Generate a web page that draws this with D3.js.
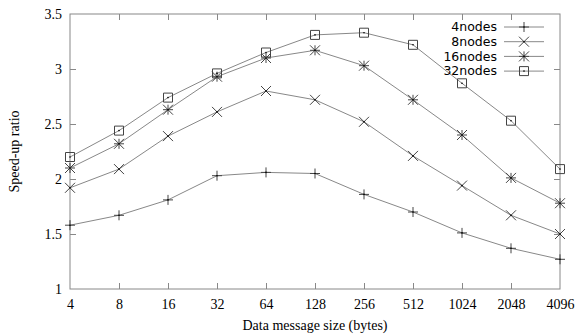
<!DOCTYPE html>
<html>
<head>
<meta charset="utf-8">
<script src="https://cdn.jsdelivr.net/npm/d3@7"></script>
<style>
  body { margin: 0; background: #fff; }
  svg { display: block; }
  .axis text { font-family: "Liberation Serif", serif; font-size: 14px; fill: #000; }
  .axis path { display: none; }
  .axis line { stroke: #888; }
  .legend text { font-family: "DejaVu Sans", sans-serif; font-size: 12.5px; fill: #000; }
</style>
</head>
<body>
<svg id="chart" width="577" height="334"></svg>
<script>
// message sizes on the x axis
const sizes = ['4', '8', '16', '32', '64', '128', '256', '512', '1024', '2048', '4096'];
const yTicks = [1, 1.5, 2, 2.5, 3, 3.5];

const nodes4  = [1.58, 1.67, 1.81, 2.03, 2.06, 2.05, 1.86, 1.70, 1.51, 1.37, 1.27];
const nodes8  = [1.92, 2.09, 2.39, 2.61, 2.80, 2.72, 2.52, 2.21, 1.94, 1.67, 1.50];
const nodes16 = [2.10, 2.32, 2.63, 2.93, 3.10, 3.17, 3.03, 2.72, 2.40, 2.01, 1.78];
const nodes32 = [2.20, 2.44, 2.74, 2.96, 3.15, 3.31, 3.33, 3.22, 2.87, 2.53, 2.09];

const seriesNames = ['4nodes', '8nodes', '16nodes', '32nodes'];
const series = [nodes4, nodes8, nodes16, nodes32];

const W = 577, H = 334;
const MARGIN = { left: 70, right: 17, top: 14, bottom: 45 };

const svg = d3.select('#chart');

const x = d3.scalePoint()
    .domain(sizes)
    .range([MARGIN.left, W - MARGIN.right]);

const y = d3.scaleLinear()
    .domain([1, 3.5])
    .range([H - MARGIN.bottom, MARGIN.top]);

// frame
svg.append('rect')
    .attr('x', MARGIN.left)
    .attr('y', MARGIN.top)
    .attr('width', W - MARGIN.right - MARGIN.left)
    .attr('height', H - MARGIN.bottom - MARGIN.top)
    .attr('fill', 'none')
    .attr('stroke', '#888');

// axes, ticks pointing inward (gnuplot style) and mirrored
svg.append('g')
    .attr('class', 'axis')
    .attr('transform', `translate(0,${H - MARGIN.bottom})`)
    .call(d3.axisBottom(x).tickSize(-6).tickPadding(10));

svg.append('g')
    .attr('class', 'axis')
    .attr('transform', `translate(0,${MARGIN.top})`)
    .call(d3.axisTop(x).tickSize(-6).tickFormat(''));

svg.append('g')
    .attr('class', 'axis')
    .attr('transform', `translate(${MARGIN.left},0)`)
    .call(d3.axisLeft(y).tickValues(yTicks).tickSize(-6).tickPadding(8).tickFormat(d3.format('')));

svg.append('g')
    .attr('class', 'axis')
    .attr('transform', `translate(${W - MARGIN.right},0)`)
    .call(d3.axisRight(y).tickValues(yTicks).tickSize(-6).tickFormat(''));

// drop the ticks lying on the frame corners
svg.selectAll('.axis .tick')
    .filter(d => d === 1 || d === 3.5 || d === '4' || d === '4096')
    .select('line').remove();

// axis titles
svg.append('text')
    .attr('x', (MARGIN.left + W - MARGIN.right) / 2)
    .attr('y', 330)
    .attr('text-anchor', 'middle')
    .style('font-family', '"Liberation Serif", serif')
    .style('font-size', '14px')
    .text('Data message size (bytes)');

svg.append('text')
    .attr('transform', `translate(19,${(MARGIN.top + H - MARGIN.bottom) / 2}) rotate(-90)`)
    .attr('text-anchor', 'middle')
    .style('font-family', '"Liberation Serif", serif')
    .style('font-size', '14px')
    .text('Speed-up ratio');

// point shapes
function marker(i) {
    const s = 5;
    const plus = `M${-s},0H${s}M0,${-s}V${s}`;
    const cross = `M${-s},${-s}L${s},${s}M${-s},${s}L${s},${-s}`;
    const square = `M-4.5,-4.5H4.5V4.5H-4.5Z`;
    if (i === 0) return plus;
    if (i === 1) return cross;
    if (i === 2) return plus + cross;
    return square;
}

const line = d3.line()
    .x((d, i) => x(sizes[i]))
    .y(d => y(d));

series.forEach((vals, k) => {
    svg.append('path')
        .attr('d', line(vals))
        .attr('fill', 'none')
        .attr('stroke', '#888')
        .attr('stroke-width', 1);

    svg.append('g')
        .selectAll('path')
        .data(vals)
        .join('path')
        .attr('transform', (d, i) => `translate(${x(sizes[i])},${y(d)})`)
        .attr('d', marker(k))
        .attr('fill', 'none')
        .attr('stroke', '#444')
        .attr('stroke-width', 1);

    svg.append('g')
        .selectAll('circle')
        .data(vals)
        .join('circle')
        .attr('cx', (d, i) => x(sizes[i]))
        .attr('cy', d => y(d))
        .attr('r', 0.8)
        .attr('fill', '#000');
});

// legend
const legend = svg.append('g').attr('class', 'legend');
seriesNames.forEach((name, k) => {
    const ly = 27 + k * 14.7;
    legend.append('text')
        .attr('x', 497)
        .attr('y', ly)
        .attr('dy', '0.35em')
        .attr('text-anchor', 'end')
        .text(name);
    legend.append('line')
        .attr('x1', 504).attr('x2', 544)
        .attr('y1', ly).attr('y2', ly)
        .attr('stroke', '#888');
    legend.append('path')
        .attr('transform', `translate(524,${ly})`)
        .attr('d', marker(k))
        .attr('fill', 'none')
        .attr('stroke', '#444');
    legend.append('circle')
        .attr('cx', 524).attr('cy', ly).attr('r', 0.8)
        .attr('fill', '#000');
});
</script>
</body>
</html>
